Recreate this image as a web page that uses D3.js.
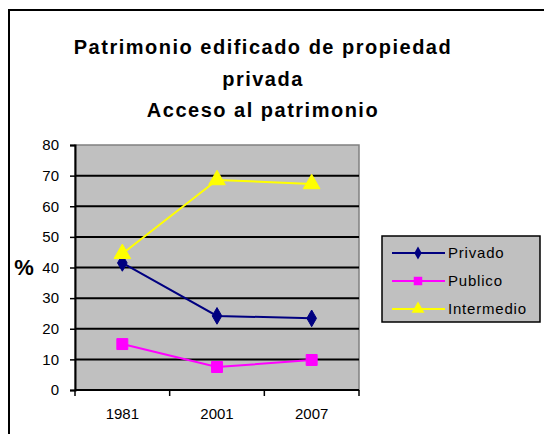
<!DOCTYPE html>
<html>
<head>
<meta charset="utf-8">
<script src="https://cdn.jsdelivr.net/npm/d3@7"></script>
<style>
  body { margin: 0; background: #fff; }
  svg text { font-family: "Liberation Sans", Arial, sans-serif; fill: #000; }
</style>
</head>
<body>
<div id="chart"></div>
<script>
  var years = ['1981', '2001', '2007'];
  var privado = [41.5, 24.2, 23.4];
  var publico = [15, 7.5, 9.8];
  var intermedio = [44.5, 68.6, 67.3];
  var yTicks = [0, 10, 20, 30, 40, 50, 60, 70, 80];
  var titleLines = ['Patrimonio edificado de propiedad', 'privada', 'Acceso al patrimonio'];

  var series = [
    {name: 'Privado', values: privado, color: '#000080', symbol: d3.symbolDiamond, size: 80},
    {name: 'Publico', values: publico, color: '#FF00FF', symbol: d3.symbolSquare, size: 120},
    {name: 'Intermedio', values: intermedio, color: '#FFFF00', symbol: d3.symbolTriangle, size: 120}
  ];

  var width = 544, height = 434,
    plot = {left: 75, top: 145, right: 359, bottom: 390};

  var svg = d3.select('#chart').append('svg')
    .attr('width', width)
    .attr('height', height);

  // outer chart frame (runs past right/bottom edges)
  svg.append('rect')
    .attr('x', 9).attr('y', 10)
    .attr('width', 600).attr('height', 500)
    .attr('fill', '#fff')
    .attr('stroke', '#000')
    .attr('stroke-width', 2);

  var title = svg.append('text')
    .attr('text-anchor', 'middle')
    .style('font-size', '20px')
    .style('font-weight', 'bold')
    .style('letter-spacing', '1.5px');
  titleLines.forEach(function(t, i) {
    title.append('tspan')
      .attr('x', 263)
      .attr('y', 54 + i * 31.5)
      .text(t);
  });

  var x = d3.scaleBand()
    .domain(years)
    .range([plot.left, plot.right]);

  var y = d3.scaleLinear()
    .domain([0, 80])
    .range([plot.bottom, plot.top]);

  // plot area
  svg.append('rect')
    .attr('x', plot.left).attr('y', plot.top)
    .attr('width', plot.right - plot.left)
    .attr('height', plot.bottom - plot.top)
    .attr('fill', '#C0C0C0')
    .attr('stroke', '#808080')
    .attr('stroke-width', 1.5);

  // gridlines
  svg.append('g')
    .selectAll('line')
    .data(yTicks.filter(function(d) { return d > 0 && d < 80; }))
    .enter().append('line')
    .attr('x1', plot.left).attr('x2', plot.right)
    .attr('y1', function(d) { return y(d); })
    .attr('y2', function(d) { return y(d); })
    .attr('stroke', '#000')
    .attr('stroke-width', 2);

  // y axis
  var yAxis = svg.append('g')
    .attr('transform', 'translate(' + plot.left + ',0)')
    .call(d3.axisLeft(y).tickValues(yTicks).tickSize(5).tickPadding(11));
  yAxis.select('.domain').attr('stroke', '#000').attr('stroke-width', 2);
  yAxis.selectAll('.tick line').attr('stroke', '#000').attr('stroke-width', 1.5);
  yAxis.selectAll('text')
    .style('font-size', '15px')
    .style('font-family', '"Liberation Sans", Arial, sans-serif');

  // x axis: ticks at category boundaries
  var xAxis = svg.append('g')
    .attr('transform', 'translate(0,' + plot.bottom + ')');
  xAxis.append('line')
    .attr('x1', plot.left).attr('x2', plot.right)
    .attr('stroke', '#000').attr('stroke-width', 2);
  var bounds = years.map(function(d) { return x(d); }).concat([x(years[years.length - 1]) + x.bandwidth()]);
  xAxis.selectAll('.xtick')
    .data(bounds)
    .enter().append('line')
    .attr('class', 'xtick')
    .attr('x1', function(d) { return d; })
    .attr('x2', function(d) { return d; })
    .attr('y1', 0).attr('y2', 6)
    .attr('stroke', '#000').attr('stroke-width', 1.5);
  xAxis.selectAll('.xlabel')
    .data(years)
    .enter().append('text')
    .attr('class', 'xlabel')
    .attr('x', function(d) { return x(d) + x.bandwidth() / 2; })
    .attr('y', 29)
    .attr('text-anchor', 'middle')
    .style('font-size', '15px')
    .text(function(d) { return d; });

  // y label
  svg.append('text')
    .attr('x', 24).attr('y', 275)
    .attr('text-anchor', 'middle')
    .style('font-size', '22px')
    .style('font-weight', 'bold')
    .text('%');

  var line = d3.line()
    .x(function(d, i) { return x(years[i]) + x.bandwidth() / 2; })
    .y(function(d) { return y(d); });

  series.forEach(function(s) {
    var g = svg.append('g').attr('class', 'series');
    g.append('path')
      .datum(s.values)
      .attr('d', line)
      .attr('fill', 'none')
      .attr('stroke', s.color)
      .attr('stroke-width', 2);
    g.selectAll('path.marker')
      .data(s.values)
      .enter().append('path')
      .attr('class', 'marker')
      .attr('d', d3.symbol().type(s.symbol).size(s.size))
      .attr('transform', function(d, i) {
        return 'translate(' + (x(years[i]) + x.bandwidth() / 2) + ',' + y(d) + ')';
      })
      .attr('fill', s.color)
      .attr('stroke', s.color);
  });

  // legend
  var legend = svg.append('g').attr('transform', 'translate(382,236)');
  legend.append('rect')
    .attr('width', 158).attr('height', 86)
    .attr('fill', '#C0C0C0')
    .attr('stroke', '#000')
    .attr('stroke-width', 1.5);
  var item = legend.selectAll('.item')
    .data(series)
    .enter().append('g')
    .attr('class', 'item')
    .attr('transform', function(d, i) { return 'translate(0,' + (17 + i * 28) + ')'; });
  item.append('line')
    .attr('x1', 10).attr('x2', 63)
    .attr('stroke', function(d) { return d.color; })
    .attr('stroke-width', 2);
  item.append('path')
    .attr('d', function(d) { return d3.symbol().type(d.symbol).size(d.size * 0.6)(); })
    .attr('transform', 'translate(36,0)')
    .attr('fill', function(d) { return d.color; });
  item.append('text')
    .attr('x', 66).attr('y', 5)
    .style('font-size', '15px')
    .style('letter-spacing', '0.8px')
    .text(function(d) { return d.name; });
</script>
</body>
</html>
